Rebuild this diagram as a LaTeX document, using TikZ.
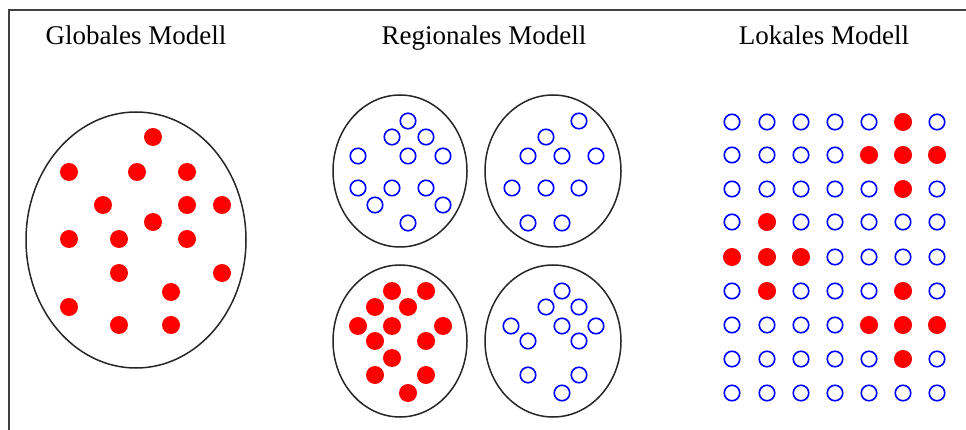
\documentclass[tikz,border=0pt]{standalone}
\usepackage{fontspec}
\setmainfont{Liberation Serif}
\begin{document}
\begin{tikzpicture}[x=1pt,y=-1pt,
  reddot/.style={circle,fill=red,draw=none,minimum size=18pt,inner sep=0pt},
  bluering/.style={circle,draw=blue,line width=1.6pt,fill=white,minimum size=15.5pt,inner sep=0pt},
  title/.style={font=\fontsize{27}{30}\selectfont,anchor=base,inner sep=0pt}]
\useasboundingbox (0,0) rectangle (966,430);
\draw[line width=2pt,black!75] (9,430) -- (9,10) -- (966,10);
% titles
\node[title] (tg) at (136,45) {Globales Modell};
\node[title] (tr) at (484,45) {Regionales Modell};
\node[title] (tl) at (824,45) {Lokales Modell};
% global
\draw[line width=1.5pt,black!85] (136,240) ellipse [x radius=110,y radius=128];
\foreach \x/\y [count=\i] in {153/137,69/172,137/172,187/172,103/205,187/205,222/205,153/222,69/239,119/239,187/239,119/273,222/273,171/292,69/307,119/325,171/325}
  \node[reddot] (g\i) at (\x,\y) {};
% regional ellipses
\draw[line width=1.5pt,black!85] (400,171) ellipse [x radius=67,y radius=76];
\draw[line width=1.5pt,black!85] (553,171) ellipse [x radius=68,y radius=76];
\draw[line width=1.5pt,black!85] (400,341) ellipse [x radius=67,y radius=76];
\draw[line width=1.5pt,black!85] (553,341) ellipse [x radius=68,y radius=76];
\foreach \x/\y [count=\i] in {408/121,392/137,426/137,358/156,408/156,443/156,358/188,392/188,426/188,375/205,443/205,408/223}
  \node[bluering] (ra\i) at (\x,\y) {};
\foreach \x/\y [count=\i] in {579/121,546/137,528/156,562/156,596/156,512/188,546/188,579/188,528/223,562/223}
  \node[bluering] (rb\i) at (\x,\y) {};
\foreach \x/\y [count=\i] in {392/291,426/291,375/307,408/307,358/326,392/326,443/326,375/341,426/341,392/358,375/375,426/375,408/393}
  \node[reddot] (rc\i) at (\x,\y) {};
\foreach \x/\y [count=\i] in {562/291,546/307,579/307,511/326,562/326,596/326,528/341,579/341,528/375,579/375,562/393}
  \node[bluering] (rd\i) at (\x,\y) {};
% local grid
\foreach \px [count=\c] in {732,767,801,835,869,903,937}
  \foreach \py [count=\r] in {122,155,189,222,257,291,325,359,393}
    \node[bluering] (l\r-\c) at (\px,\py) {};
\foreach \r/\c in {1/6,2/5,2/6,2/7,3/6,4/2,5/1,5/2,5/3,6/2,6/6,7/5,7/6,7/7,8/6}
  \node[reddot] (lr\r-\c) at (l\r-\c) {};
\end{tikzpicture}
\end{document}
